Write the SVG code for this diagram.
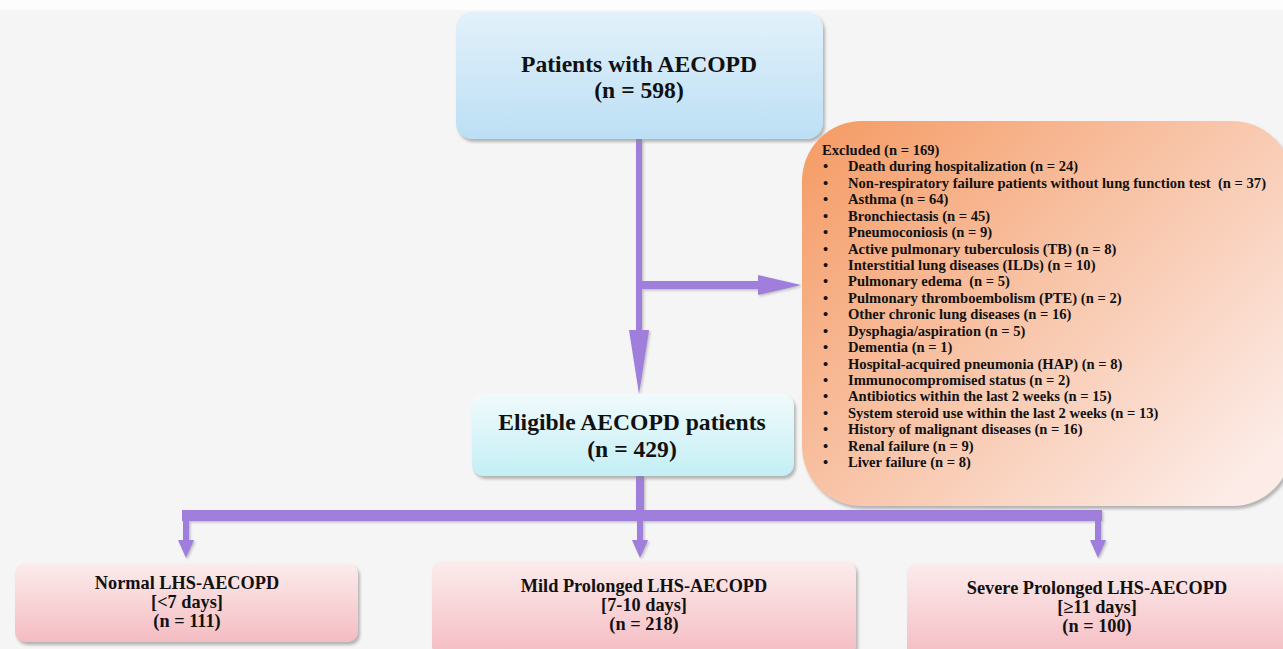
<svg xmlns="http://www.w3.org/2000/svg" width="1283" height="649" viewBox="0 0 1283 649">
<defs>
<linearGradient id="gBlue" x1="0" y1="0" x2="0" y2="1"><stop offset="0" stop-color="#e2f1fa"/><stop offset="1" stop-color="#bcdff5"/></linearGradient>
<linearGradient id="gCyan" x1="0" y1="0" x2="0" y2="1"><stop offset="0" stop-color="#f1fafc"/><stop offset="1" stop-color="#c3eff5"/></linearGradient>
<linearGradient id="gOrange" x1="0" y1="0" x2="1" y2="0.8"><stop offset="0" stop-color="#f59a62"/><stop offset="0.5" stop-color="#f8c3a6"/><stop offset="1" stop-color="#fcebe6"/></linearGradient>
<linearGradient id="gPink" x1="0" y1="0" x2="0" y2="1"><stop offset="0" stop-color="#fcecec"/><stop offset="1" stop-color="#f4bcc2"/></linearGradient>
<filter id="sh" x="-5%" y="-5%" width="110%" height="115%"><feDropShadow dx="2" dy="3" stdDeviation="1.5" flood-color="#888" flood-opacity="0.6"/></filter>
<filter id="ash" x="-20%" y="-20%" width="140%" height="140%"><feDropShadow dx="1.5" dy="1.5" stdDeviation="0.8" flood-color="#888" flood-opacity="0.5"/></filter>
<style>
.t{font-family:"Liberation Serif","Times New Roman",serif;font-weight:bold;fill:#111;}
.big{font-size:23.6px;text-anchor:middle;}
.mid{font-size:18.3px;text-anchor:middle;}
.ex{font-size:14.6px;}
.arr{fill:#a07edc;}
</style>
</defs>
<rect width="1283" height="649" fill="#f5f5f5"/>
<rect width="1283" height="10" fill="#fdfdfd"/>

<g id="connectors" filter="url(#ash)">
<rect class="arr" x="636" y="139" width="6" height="195"/>
<polygon class="arr" points="629,330 649,330 639,394"/>
<rect class="arr" x="642" y="281" width="120" height="8"/>
<polygon class="arr" points="758,275 758,295 801,285"/>
<rect class="arr" x="636" y="476" width="8" height="40"/>
<rect class="arr" x="182" y="510" width="920" height="11"/>
<rect class="arr" x="183" y="521" width="6" height="22"/>
<polygon class="arr" points="178,540 194,540 186,558"/>
<rect class="arr" x="637" y="521" width="6" height="22"/>
<polygon class="arr" points="632,540 648,540 640,558"/>
<rect class="arr" x="1095" y="521" width="6" height="22"/>
<polygon class="arr" points="1090,540 1106,540 1098,558"/>
</g>

<g id="patients">
<rect x="456" y="12" width="367" height="127" rx="16" fill="url(#gBlue)" filter="url(#sh)"/>
<text class="t big" x="639" y="72">Patients with AECOPD</text>
<text class="t big" x="639" y="98">(n = 598)</text>
</g>

<g id="eligible">
<rect x="472" y="394" width="322" height="82" rx="12" fill="url(#gCyan)" filter="url(#sh)"/>
<text class="t big" x="632" y="430">Eligible AECOPD patients</text>
<text class="t big" x="632" y="457">(n = 429)</text>
</g>

<g id="excluded">
<rect x="802" y="121" width="490" height="385" rx="60" fill="url(#gOrange)" filter="url(#sh)"/>
<text class="t ex" x="822" y="155">Excluded (n = 169)</text>
<g class="t ex">
<text x="823" y="171.4">•<tspan x="848">Death during hospitalization (n = 24)</tspan></text>
<text x="823" y="187.8">•<tspan x="848">Non-respiratory failure patients without lung function test &#160;(n = 37)</tspan></text>
<text x="823" y="204.3">•<tspan x="848">Asthma (n = 64)</tspan></text>
<text x="823" y="220.7">•<tspan x="848">Bronchiectasis (n = 45)</tspan></text>
<text x="823" y="237.1">•<tspan x="848">Pneumoconiosis (n = 9)</tspan></text>
<text x="823" y="253.5">•<tspan x="848">Active pulmonary tuberculosis (TB) (n = 8)</tspan></text>
<text x="823" y="269.9">•<tspan x="848">Interstitial lung diseases (ILDs) (n = 10)</tspan></text>
<text x="823" y="286.4">•<tspan x="848">Pulmonary edema &#160;(n = 5)</tspan></text>
<text x="823" y="302.8">•<tspan x="848">Pulmonary thromboembolism (PTE) (n = 2)</tspan></text>
<text x="823" y="319.2">•<tspan x="848">Other chronic lung diseases (n = 16)</tspan></text>
<text x="823" y="335.6">•<tspan x="848">Dysphagia/aspiration (n = 5)</tspan></text>
<text x="823" y="352.0">•<tspan x="848">Dementia (n = 1)</tspan></text>
<text x="823" y="368.5">•<tspan x="848">Hospital-acquired pneumonia (HAP) (n = 8)</tspan></text>
<text x="823" y="384.9">•<tspan x="848">Immunocompromised status (n = 2)</tspan></text>
<text x="823" y="401.3">•<tspan x="848">Antibiotics within the last 2 weeks (n = 15)</tspan></text>
<text x="823" y="417.7">•<tspan x="848">System steroid use within the last 2 weeks (n = 13)</tspan></text>
<text x="823" y="434.1">•<tspan x="848">History of malignant diseases (n = 16)</tspan></text>
<text x="823" y="450.6">•<tspan x="848">Renal failure (n = 9)</tspan></text>
<text x="823" y="467.0">•<tspan x="848">Liver failure (n = 8)</tspan></text>
</g>
</g>

<g id="normal">
<rect x="15" y="563" width="343" height="79" rx="10" fill="url(#gPink)" filter="url(#sh)"/>
<text class="t mid" x="187" y="589">Normal LHS-AECOPD</text>
<text class="t mid" x="187" y="608">[&lt;7 days]</text>
<text class="t mid" x="187" y="627">(n = 111)</text>
</g>

<g id="mild">
<rect x="432" y="561" width="424" height="95" rx="10" fill="url(#gPink)" filter="url(#sh)"/>
<text class="t mid" x="644" y="592">Mild Prolonged LHS-AECOPD</text>
<text class="t mid" x="644" y="611">[7-10 days]</text>
<text class="t mid" x="644" y="630">(n = 218)</text>
</g>

<g id="severe">
<rect x="907" y="563" width="390" height="95" rx="10" fill="url(#gPink)" filter="url(#sh)"/>
<text class="t mid" x="1097" y="594">Severe Prolonged LHS-AECOPD</text>
<text class="t mid" x="1097" y="613">[≥11 days]</text>
<text class="t mid" x="1097" y="632">(n = 100)</text>
</g>
</svg>
